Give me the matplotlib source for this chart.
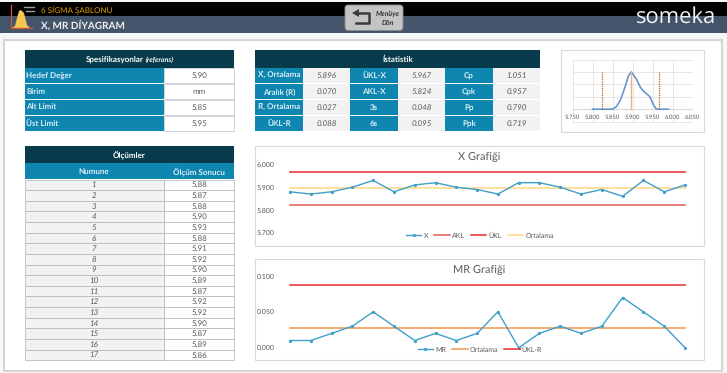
#!/usr/bin/env python
"""X, MR diagram dashboard: spec/stat tables, distribution curve, two control charts."""
import numpy as np
import matplotlib
matplotlib.use("Agg")
import matplotlib.pyplot as plt
from matplotlib.patches import FancyBboxPatch, Polygon, Rectangle

plt.rcParams["font.family"] = ["Lato", "DejaVu Sans"]
plt.rcParams["text.hinting"] = "no_hinting"
plt.rcParams["text.hinting_factor"] = 1

W, H = 727, 373
DARK = "#083b4c"
TEAL = "#0f86b0"
GREY = "#595959"
LINE = "#a9b4bd"

spec_labels = ["Hedef Değer", "Birim", "Alt Limit", "Üst Limit"]
spec_values = ["5.90", "mm", "5.85", "5.95"]

stat_rows = [
    ["X\u0304, Ortalama", "5.896", "ÜKL-X", "5.967", "Cp", "1.051"],
    ["Aralık (R)", "0.070", "AKL-X", "5.824", "Cpk", "0.957"],
    ["R\u0304, Ortalama", "0.027", "3s", "0.048", "Pp", "0.790"],
    ["ÜKL-R", "0.088", "6s", "0.095", "Ppk", "0.719"],
]

samples = list(range(1, 18))
table_values = ["5.88", "5.87", "5.88", "5.90", "5.93", "5.88", "5.91", "5.92", "5.90",
                "5.89", "5.87", "5.92", "5.92", "5.90", "5.87", "5.89", "5.86"]

x_vals = [5.88, 5.87, 5.88, 5.90, 5.93, 5.88, 5.91, 5.92, 5.90, 5.89,
          5.87, 5.92, 5.92, 5.90, 5.87, 5.89, 5.86, 5.93, 5.88, 5.91]
mr_vals = [0.01, 0.01, 0.02, 0.03, 0.05, 0.03, 0.01, 0.02, 0.01, 0.02,
           0.05, 0.00, 0.02, 0.03, 0.02, 0.03, 0.07, 0.05, 0.03, 0.00]
x_mean, x_ucl, x_lcl = 5.896, 5.967, 5.824
mr_mean, mr_ucl = 0.027, 0.088

curve_x = [5.80, 5.83, 5.85, 5.86, 5.87, 5.88, 5.89, 5.897, 5.91, 5.92, 5.927, 5.944, 5.952, 5.96, 5.99]
curve_y = [0, 0, 0, 0.07, 0.25, 0.55, 0.90, 1.0, 0.80, 0.58, 0.49, 0.33, 0.12, 0, 0]
dist_ticks = [5.75, 5.80, 5.85, 5.90, 5.95, 6.00, 6.05]

fig = plt.figure(figsize=(W / 100, H / 100), dpi=100, facecolor="#f7f7f7")
bg = fig.add_axes([0, 0, 1, 1])
bg.set_xlim(0, W); bg.set_ylim(H, 0); bg.axis("off")


def box(x0, y0, x1, y1, fc, ec="none", lw=0, ax=bg, z=1):
    ax.add_patch(Rectangle((x0, y0), x1 - x0, y1 - y0, fc=fc, ec=ec, lw=lw, zorder=z))


def label(x, y, s, size=6.0, color=GREY, ha="center", weight="normal", style="normal", family=None):
    bg.text(x, y, s, fontsize=size, color=color, ha=ha, va="center", family=family,
            fontweight=weight, fontstyle=style, zorder=5)


def sub_axes(x0, y0, x1, y1):
    # y0 is the upper pixel edge
    ax = fig.add_axes([x0 / W, 1 - y1 / H, (x1 - x0) / W, (y1 - y0) / H])
    ax.patch.set_alpha(0)
    return ax


# header
box(0, 2, W, 16, "#000000")
box(0, 16, W, 33, "#44546a")
label(41, 9.5, "6 SİGMA ŞABLONU", size=6.0, color="#e0a000", ha="left")
label(41, 25, "X, MR DİYAGRAM", size=7.5, color="#f2f2f2", ha="left", weight="bold")
# bell icon
bx = np.array([12, 15, 17, 19, 21, 24, 27, 30])
by = np.array([28, 26, 18, 11, 10, 13, 25, 28])
bg.add_patch(Polygon(np.c_[bx, by], fc="#f7c64e", ec="none", zorder=3))
bg.plot([11, 11, 32], [5, 28, 28], color="#c8553d", lw=1, zorder=4)
bg.plot([24, 34], [7, 7], color="#a0a0a0", lw=1, zorder=4)
bg.plot([26, 34], [11, 11], color="#a0a0a0", lw=1, zorder=4)
# return button
bg.add_patch(FancyBboxPatch((345, 5), 58, 25.5, boxstyle="round,pad=0,rounding_size=3",
                            fc="#c4c4c4", ec="#8a8a8a", lw=0.7, zorder=3))
bg.plot([358, 369, 369, 356], [13, 13, 23, 23], color="#3c3c3c", lw=1.8, zorder=4)
bg.add_patch(Polygon([[352, 13], [359, 9], [359, 17]], fc="#3c3c3c", ec="none", zorder=4))
label(388, 14, "Menüye", size=4.8, color="#333333", weight="bold", style="italic")
label(388, 22.5, "Dön", size=4.8, color="#333333", weight="bold", style="italic")
label(676, 17, "someka", size=15.5, color="#f2f2f2", family="Open Sans")

# main panel
box(4, 40, 722, 371, "white", ec="#d4d4d4", lw=1.5)

# spec table
box(24.5, 50, 234, 67.5, DARK)
label(144, 60, "Spesifikasyonlar", color="white", ha="right", weight="bold")
label(146, 60, "(referans)", size=5, color="white", ha="left", weight="bold", style="italic")
for i, (a, b) in enumerate(zip(spec_labels, spec_values)):
    y0 = 68 + i * 16
    box(24.5, y0, 164, y0 + 15.2, TEAL)
    box(164, y0, 234, y0 + 15.2, "white", ec=LINE, lw=0.4)
    label(26, y0 + 8, a, color="#d8eef6", ha="left", weight="bold")
    label(199, y0 + 8, b)

# statistics table
box(255, 50, 540, 67.5, DARK)
label(398, 60, "İstatistik", color="white", weight="bold")
col_x = [255, 303, 350, 398, 445, 493, 540]
for i, row in enumerate(stat_rows):
    y0 = 68 + i * 16
    for j, s in enumerate(row):
        is_head = j % 2 == 0
        box(col_x[j], y0, col_x[j + 1], y0 + 15.2, TEAL if is_head else "#f2f2f2")
        if is_head:
            label((col_x[j] + col_x[j + 1]) / 2, y0 + 8, s, size=5.7, color="#d8eef6", weight="bold")
        else:
            label((col_x[j] + col_x[j + 1]) / 2, y0 + 8, s, style="italic")

# measurement table
box(24.5, 145.5, 234, 163, DARK)
label(129, 155, "Ölçümler", color="white", weight="bold")
box(24.5, 163, 164, 179, TEAL)
box(164, 163, 234, 179, TEAL)
label(94, 171.5, "Numune", color="#d8eef6", weight="bold")
label(199, 171.5, "Ölçüm Sonucu", color="#d8eef6", weight="bold")
for i, (n, v) in enumerate(zip(samples, table_values)):
    y0 = 179.5 + i * 10.63
    box(24.5, y0, 164, y0 + 10.63, "#f2f2f2", ec=LINE, lw=0.5)
    box(164, y0, 234, y0 + 10.63, "white", ec=LINE, lw=0.5)
    label(94, y0 + 5.6, str(n), style="italic")
    label(199, y0 + 5.6, v)

# chart frames
box(561, 50, 704, 132, "white", ec="#d9d9d9", lw=0.8)
box(255, 146, 704, 246, "white", ec="#d9d9d9", lw=0.8)
box(255, 259, 704, 360, "white", ec="#d9d9d9", lw=0.8)

# distribution curve
ax = sub_axes(572.5, 59.5, 692.5, 123)
ax.set_xlim(5.75, 6.05); ax.set_ylim(-0.37, 1.30)
ax.set_xticks(dist_ticks); ax.set_yticks(np.arange(-0.333, 1.34, 0.333))
ax.grid(color="#e6e6e6", lw=0.7)
ax.set_axisbelow(True)
ax.tick_params(length=0, labelleft=False, labelbottom=False)
for s in ax.spines.values():
    s.set_visible(False)
ax.axhline(0, color="#d9d9d9", lw=0.8)
for t in dist_ticks:
    ax.text(t, -0.14, f"{t:.3f}", fontsize=4.6, color=GREY, ha="center", va="top",
            bbox=dict(fc="white", ec="none", pad=0.3))
ax.plot(curve_x, curve_y, color="#5b8fd0", lw=1.1)
ax.plot([x_mean, x_mean], [0, 1], color="#f4b183", lw=1)
for v in (x_lcl, x_ucl):
    ax.plot([v, v], [0, 1], color="#b5652a", lw=0.9, ls=(0, (1, 0.8)))


def control_chart(y_top, y_bot, lo, hi, ticks, title, title_y, series):
    ax = sub_axes(290, y_top, 685, y_bot)
    ax.set_xlim(0, 19); ax.set_ylim(lo, hi)
    ax.set_xticks([]); ax.set_yticks(ticks)
    ax.set_yticklabels([f"{t:.3f}" for t in ticks], fontsize=4.7, color=GREY)
    ax.tick_params(length=0, pad=11)
    for s in ax.spines.values():
        s.set_visible(False)
    for vals, name, style in series:
        ax.plot(range(20), vals, label=name, clip_on=False, **style)
    label(479, title_y, title, size=8.2, color="#595959")
    return ax


red = dict(color="#e52c2c", lw=1.1)
soft = dict(color="#dc5a58", lw=1.1)
blue = dict(color="#3f9fc9", lw=1.0, marker="o", ms=1.3)

ax = control_chart(164.5, 232.7, 5.7, 6.0, [5.7, 5.8, 5.9, 6.0], "X Grafiği", 157, [
    (x_vals, "X", blue),
    ([x_lcl] * 20, "AKL", soft),
    ([x_ucl] * 20, "ÜKL", red),
    ([x_mean] * 20, "Ortalama", dict(color="#ffd98e", lw=1.2)),
])
ax.lines[0].set_zorder(5)
ax.legend(loc="center", bbox_to_anchor=(480 / W, 1 - 235.7 / H), bbox_transform=fig.transFigure,
          ncol=4, frameon=False, fontsize=5, labelcolor=GREY, handlelength=2.2, handletextpad=0.3,
          columnspacing=0.9, borderpad=0)

ax = control_chart(276, 347.7, 0, 0.1, [0, 0.05, 0.1], "MR Grafiği", 270, [
    (mr_vals, "MR", blue),
    ([mr_mean] * 20, "Ortalama", dict(color="#f0954d", lw=1.1)),
    ([mr_ucl] * 20, "ÜKL-R", red),
])
ax.lines[0].set_zorder(5)
ax.legend(loc="center", bbox_to_anchor=(480 / W, 1 - 349.7 / H), bbox_transform=fig.transFigure,
          ncol=3, frameon=False, fontsize=5, labelcolor=GREY, handlelength=2.2, handletextpad=0.3,
          columnspacing=0.9, borderpad=0)

fig.savefig("out.png", dpi=100)
